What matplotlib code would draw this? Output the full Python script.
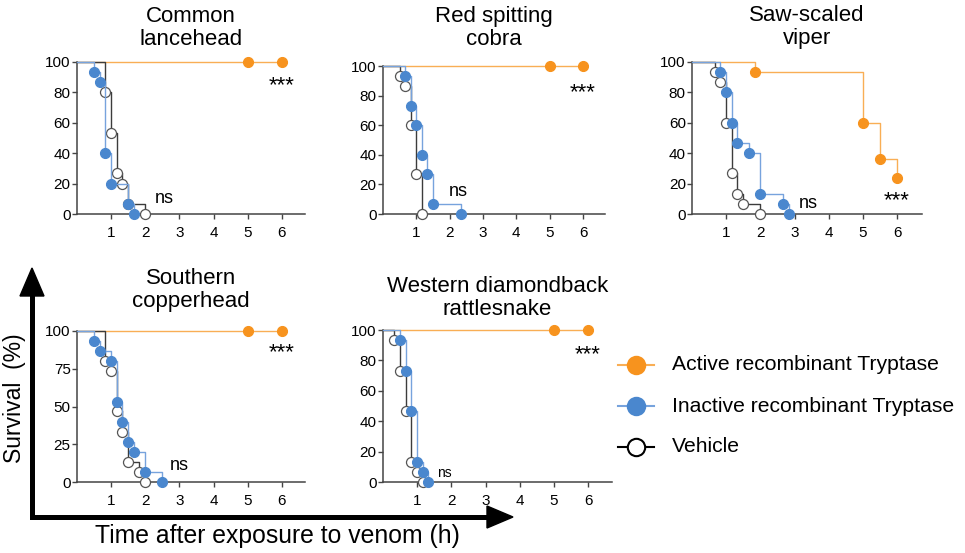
import matplotlib
matplotlib.use('Agg')
import matplotlib.pyplot as plt
from matplotlib.patches import Polygon

plt.rcParams['font.family'] = ['Liberation Sans', 'DejaVu Sans']

W, H = 965, 553

# ---------------- data ----------------
titles = ['Common\nlancehead', 'Red spitting\ncobra', 'Saw-scaled\nviper',
          'Southern\ncopperhead', 'Western diamondback\nrattlesnake']
legend_labels = ['Active recombinant Tryptase', 'Inactive recombinant Tryptase', 'Vehicle']
x_ticks = [1, 2, 3, 4, 5, 6]
y_ticks_default = [0, 20, 40, 60, 80, 100]
y_ticks_copper = [0, 25, 50, 75, 100]
sig_labels = ['***', 'ns']

# Common lancehead
lance_active_t = [5, 6]
lance_active_s = [100, 100]
lance_inactive_t = [0.5, 0.67, 0.83, 1.0, 1.5, 1.67]
lance_inactive_s = [93.3, 86.7, 40, 20, 6.7, 0]
lance_vehicle_t = [0.83, 1.0, 1.17, 1.33, 1.5, 2.0]
lance_vehicle_s = [80, 53.3, 26.7, 20, 6.7, 0]

# Red spitting cobra
cobra_active_t = [5, 6]
cobra_active_s = [100, 100]
cobra_inactive_t = [0.67, 0.83, 1.0, 1.17, 1.33, 1.5, 2.33]
cobra_inactive_s = [93.3, 73.3, 60, 40, 26.7, 6.7, 0]
cobra_vehicle_t = [0.5, 0.67, 0.83, 1.0, 1.17]
cobra_vehicle_s = [93.3, 86.7, 60, 26.7, 0]

# Saw-scaled viper
viper_active_t = [1.83, 5.0, 5.5, 6.0]
viper_active_s = [93.3, 60, 36, 24]
viper_inactive_t = [0.83, 1.0, 1.17, 1.33, 1.67, 2.0, 2.67, 2.85]
viper_inactive_s = [93.3, 80, 60, 46.7, 40, 13.3, 6.7, 0]
viper_vehicle_t = [0.67, 0.83, 1.0, 1.17, 1.33, 1.5, 2.0]
viper_vehicle_s = [93.3, 86.7, 60, 26.7, 13.3, 6.7, 0]

# Southern copperhead
copper_active_t = [5, 6]
copper_active_s = [100, 100]
copper_inactive_t = [0.5, 0.67, 1.0, 1.17, 1.33, 1.5, 1.67, 2.0, 2.5]
copper_inactive_s = [93.3, 86.7, 80, 53.3, 40, 26.7, 20, 6.7, 0]
copper_vehicle_t = [0.83, 1.0, 1.17, 1.33, 1.5, 1.83, 2.0]
copper_vehicle_s = [80, 73.3, 46.7, 33.3, 13.3, 6.7, 0]

# Western diamondback rattlesnake
rattle_active_t = [5, 6]
rattle_active_s = [100, 100]
rattle_inactive_t = [0.5, 0.67, 0.83, 1.0, 1.17, 1.33]
rattle_inactive_s = [93.3, 73.3, 46.7, 13.3, 6.7, 0]
rattle_vehicle_t = [0.33, 0.5, 0.67, 0.83, 1.0, 1.17]
rattle_vehicle_s = [93.3, 73.3, 46.7, 13.3, 6.7, 0]

# significance label positions (x in h, y in %)
lance_star_xy, lance_ns_xy = (6.0, 84.5), (2.55, 10)
cobra_star_xy, cobra_ns_xy = (6.0, 82), (2.25, 15)
viper_star_xy, viper_ns_xy = (6.0, 8.6), (3.4, 7)
copper_star_xy, copper_ns_xy = (6.0, 85.5), (3.0, 11)
rattle_star_xy, rattle_ns_xy = (6.0, 83.5), (1.8, 6)

# ---------------- style ----------------
ORANGE_M, ORANGE_L = '#F7931E', '#F9AE55'
BLUE_M, BLUE_L = '#4A87CE', '#77A3DD'
VEH_L, VEH_E = '#3C3C3C', '#555555'
AX_C = '#444444'

fig = plt.figure(figsize=(W / 100, H / 100), dpi=100)


def rect(l, t, r, b):
    return [l / W, 1 - b / H, (r - l) / W, (b - t) / H]


panels = [
    dict(r=rect(77, 62, 305, 214), xmax=6.68, yt=y_ticks_default, tp=12,
         a=(lance_active_t, lance_active_s), i=(lance_inactive_t, lance_inactive_s),
         v=(lance_vehicle_t, lance_vehicle_s), st=lance_star_xy, ns=lance_ns_xy, nsf=13),
    dict(r=rect(383, 66, 605, 214), xmax=6.66, yt=y_ticks_default, tp=15,
         a=(cobra_active_t, cobra_active_s), i=(cobra_inactive_t, cobra_inactive_s),
         v=(cobra_vehicle_t, cobra_vehicle_s), st=cobra_star_xy, ns=cobra_ns_xy, nsf=13),
    dict(r=rect(692, 62, 922, 214), xmax=6.73, yt=y_ticks_default, tp=13,
         a=(viper_active_t, viper_active_s), i=(viper_inactive_t, viper_inactive_s),
         v=(viper_vehicle_t, viper_vehicle_s), st=viper_star_xy, ns=viper_ns_xy, nsf=13),
    dict(r=rect(77, 331, 305, 482), xmax=6.68, yt=y_ticks_copper, tp=17,
         a=(copper_active_t, copper_active_s), i=(copper_inactive_t, copper_inactive_s),
         v=(copper_vehicle_t, copper_vehicle_s), st=copper_star_xy, ns=copper_ns_xy, nsf=13),
    dict(r=rect(383, 330, 612, 482), xmax=6.7, yt=y_ticks_default, tp=11,
         a=(rattle_active_t, rattle_active_s), i=(rattle_inactive_t, rattle_inactive_s),
         v=(rattle_vehicle_t, rattle_vehicle_s), st=rattle_star_xy, ns=rattle_ns_xy, nsf=10),
]


def km(ax, t, s, lc, mfc, mec, z, lw=1.0, ms=7.2, ew=0.8):
    ax.step([0] + list(t), [100] + list(s), where='post', color=lc, lw=lw,
            zorder=z, clip_on=False)
    ax.plot(t, s, ls='none', marker='o', ms=ms, mfc=mfc, mec=mec, mew=ew,
            zorder=z + 0.5, clip_on=False)


for p, title in zip(panels, titles):
    ax = fig.add_axes(p['r'])
    km(ax, *p['a'], ORANGE_L, ORANGE_M, ORANGE_M, 2)
    km(ax, *p['v'], VEH_L, 'white', VEH_E, 3, ew=0.9)
    km(ax, *p['i'], BLUE_L, BLUE_M, BLUE_M, 4)
    ax.set_xlim(0, p['xmax'])
    ax.set_ylim(0, 100)
    ax.set_xticks(x_ticks)
    ax.set_yticks(p['yt'])
    for side in ('top', 'right'):
        ax.spines[side].set_visible(False)
    for side in ('left', 'bottom'):
        ax.spines[side].set_color(AX_C)
        ax.spines[side].set_linewidth(1.1)
    ax.tick_params(axis='both', colors=AX_C, labelcolor='black', labelsize=11,
                   length=3.5, width=1.0)
    ax.tick_params(axis='y', pad=1)
    ax.tick_params(axis='x', pad=5)
    ax.set_title(title, fontsize=16, pad=p['tp'], linespacing=1.12)
    ax.text(*p['st'], sig_labels[0], fontsize=16, ha='center', va='center')
    ax.text(*p['ns'], sig_labels[1], fontsize=p['nsf'], ha='center', va='center')

# ---------------- overlay: big axes arrows, labels, legend ----------------
ov = fig.add_axes([0, 0, 1, 1], zorder=10)
ov.set_xlim(0, W)
ov.set_ylim(H, 0)
ov.axis('off')
ov.patch.set_alpha(0)

cx, cy = 32, 517
ov.plot([cx, cx, 492], [292, cy, cy], color='black', lw=3.6,
        solid_joinstyle='miter', solid_capstyle='butt')
ov.add_patch(Polygon([[cx, 268], [cx - 12, 296], [cx + 12, 296]], closed=True,
                     color='black'))
ov.add_patch(Polygon([[513, cy], [487, cy - 11], [487, cy + 11]], closed=True,
                     color='black'))
ov.text(15, 398, 'Survival  (%)', rotation=90, fontsize=16.5, ha='center', va='center')
ov.text(277, 536, 'Time after exposure to venom (h)', fontsize=17.8, ha='center',
        va='center')

leg_rows = [365, 406, 447]
leg_styles = [(ORANGE_L, ORANGE_M, ORANGE_M), (BLUE_L, BLUE_M, BLUE_M),
              ('black', 'white', 'black')]
for yy, lab, (lc, mfc, mec) in zip(leg_rows, legend_labels, leg_styles):
    ov.plot([618, 654], [yy, yy], color=lc, lw=1.5)
    ov.plot([636], [yy], ls='none', marker='o', ms=12.5, mfc=mfc, mec=mec,
            mew=1.5)
    ov.text(672, yy, lab, fontsize=15.2, ha='left', va='center')

fig.savefig('out.png', dpi=100)
